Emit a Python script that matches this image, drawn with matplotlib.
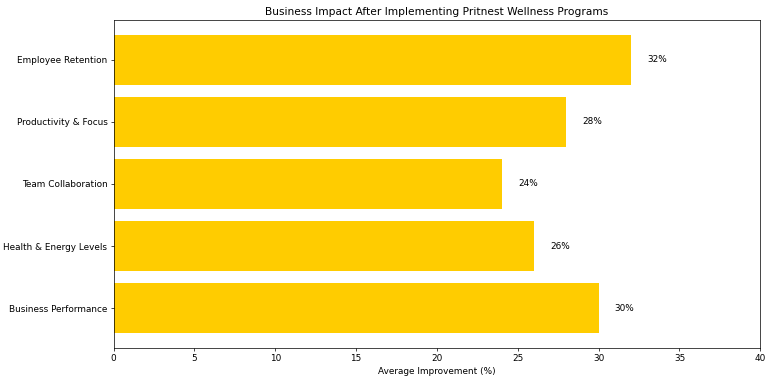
import matplotlib.pyplot as plt

categories = ["Business Performance", "Health & Energy Levels", "Team Collaboration",
              "Productivity & Focus", "Employee Retention"]
improvements = [30, 26, 24, 28, 32]

fig, ax = plt.subplots(figsize=(12, 6), dpi=64)
bars = ax.barh(categories, improvements, color="#FFCC00")

for bar, val in zip(bars, improvements):
    ax.text(bar.get_width() + 1, bar.get_y() + bar.get_height() / 2, f"{val}%",
            va="center", ha="left")

ax.set_xlim(0, 40)
ax.set_xlabel("Average Improvement (%)")
ax.set_title("Business Impact After Implementing Pritnest Wellness Programs")
fig.subplots_adjust(left=0.148, right=0.990, top=0.948, bottom=0.094)
fig.savefig("out.png", dpi=64)
